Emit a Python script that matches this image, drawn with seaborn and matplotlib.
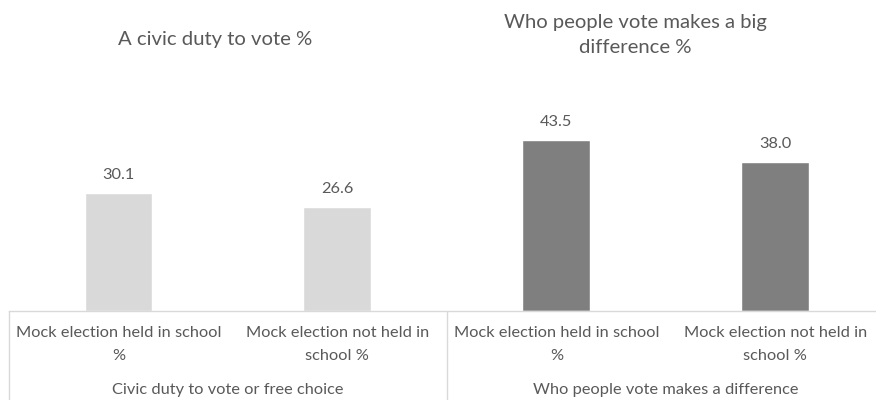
import matplotlib
matplotlib.use("Agg")
import matplotlib.pyplot as plt
import seaborn as sns
import pandas as pd

# ---- data ----
groups = ["Civic duty to vote or free choice", "Civic duty to vote or free choice",
          "Who people vote makes a difference", "Who people vote makes a difference"]
tick_labels = ["Mock election held in school\n%", "Mock election not held in\nschool %",
               "Mock election held in school\n%", "Mock election not held in\nschool %"]
values = [30.1, 26.6, 43.5, 38.0]
group_names = ["Civic duty to vote or free choice", "Who people vote makes a difference"]
titles = ["A civic duty to vote %", "Who people vote makes a big\ndifference %"]

keys = ["c0", "c1", "c2", "c3"]
df = pd.DataFrame({"key": keys, "group": groups, "value": values})

sns.set_theme(style="white")
plt.rcParams["font.family"] = ["Lato", "DejaVu Sans"]

TXT = "#595959"
LIGHT = "#D9D9D9"
DARK = "#7F7F7F"
FS = 11.8

fig = plt.figure(figsize=(8.76, 4.0), dpi=100)
ax = fig.add_axes([9 / 876, 89 / 400, 1 - 9 / 876, 311 / 400])

sns.barplot(data=df, x="key", y="value", hue="group", palette=[LIGHT, DARK],
            width=0.31, dodge=False, legend=False, ax=ax, saturation=1)

ax.set_xlim(-0.5, 3.46)
ax.set_ylim(0, 79.3)
for s in ["top", "right", "left"]:
    ax.spines[s].set_visible(False)
ax.spines["bottom"].set_color(LIGHT)
ax.spines["bottom"].set_linewidth(1.0)
ax.set_yticks([])
ax.set_xlabel("")
ax.set_ylabel("")
ax.set_xticks(range(len(keys)))
ax.set_xticklabels(tick_labels, fontsize=FS, color=TXT, linespacing=1.75)
ax.tick_params(axis="x", length=0, pad=11)

for c in ax.containers:
    ax.bar_label(c, fmt="%.1f", padding=8, fontsize=FS, color=TXT)

tr = ax.get_xaxis_transform()
for xv in [-0.5, 1.5]:
    ax.plot([xv, xv], [0, -89 / 311], transform=tr, color=LIGHT, lw=1.0, clip_on=False)

for i, g in enumerate(group_names):
    ax.text(0.5 + 2 * i, -79 / 311, g, transform=tr, ha="center", va="center",
            fontsize=FS, color=TXT)

fig.text(215 / 876, 1 - 40 / 400, titles[0], ha="center", va="center", fontsize=14.6, color=TXT)
fig.text(635 / 876, 1 - 35 / 400, titles[1], ha="center", va="center", fontsize=14.6,
         color=TXT, linespacing=1.55)

fig.savefig("out.png", dpi=100)
